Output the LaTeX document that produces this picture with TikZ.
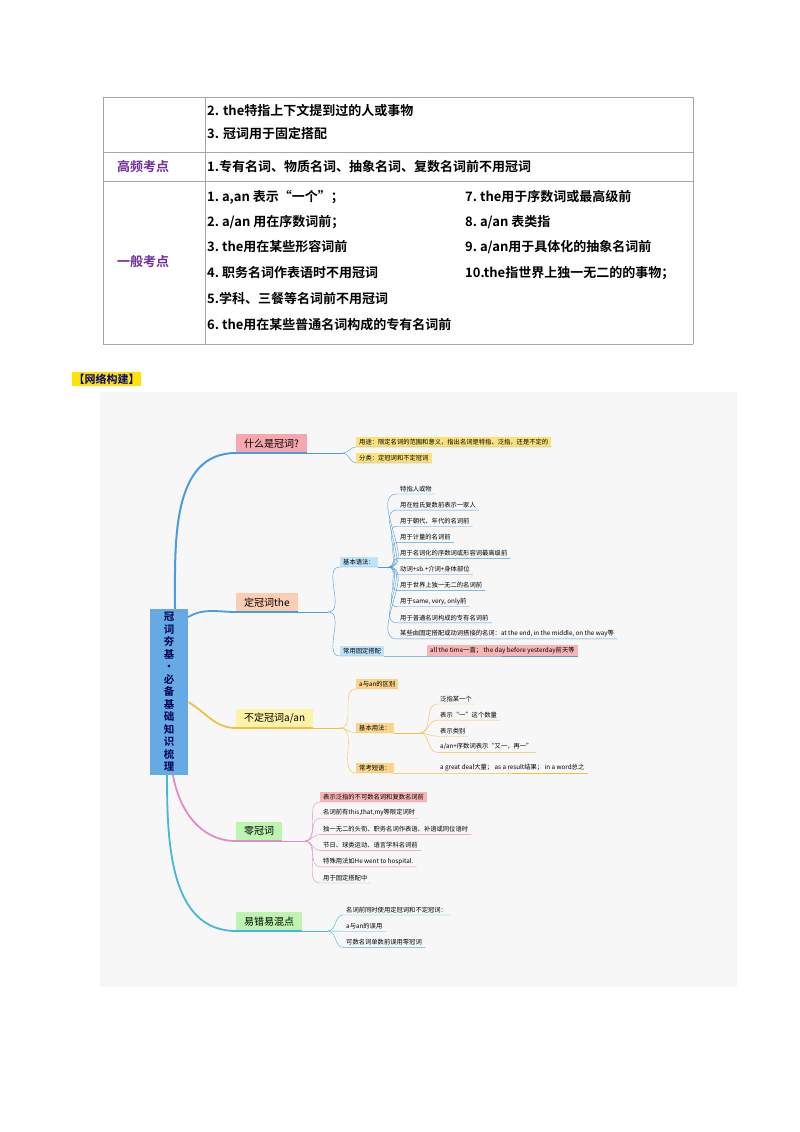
\documentclass[tikz,border=0pt]{standalone}
\usepackage{fontspec}
\setmainfont{Noto Sans CJK SC}
\newfontfamily\cjkb{Noto Sans CJK SC Bold}
\usetikzlibrary{calc}
\definecolor{bgc}{HTML}{F7F7F8}
\definecolor{pur}{HTML}{7030A0}
\definecolor{lb}{HTML}{4A9BE0}
\definecolor{ly}{HTML}{F0C040}
\definecolor{lp}{HTML}{E58AC8}
\definecolor{lc}{HTML}{45B8D8}
\definecolor{bpink}{HTML}{F7A8AE}
\definecolor{bor}{HTML}{FBCDB2}
\definecolor{byel}{HTML}{FBF3A8}
\definecolor{bgrn}{HTML}{BDF5B0}
\definecolor{yel}{HTML}{FBE27A}
\definecolor{lblu}{HTML}{BFE3FA}
\definecolor{org}{HTML}{FBD38A}
\definecolor{pk}{HTML}{F9B5B5}
\tikzset{
 tb/.style={anchor=base west,font=\cjkb\fontsize{13}{14}\selectfont,inner sep=0pt},
 br/.style={anchor=south west,font=\fontsize{10}{11}\selectfont,inner xsep=8pt,inner ysep=3pt,minimum height=19pt},
 lf/.style={anchor=south west,font=\fontsize{6.3}{7}\selectfont,inner xsep=3pt,inner ysep=2pt},
}
\begin{document}
\begin{tikzpicture}[x=1pt,y=-1pt]
\useasboundingbox (0,0) rectangle (800,1132);
\fill[white] (0,0) rectangle (800,1132);
% table
\draw[gray!70,line width=0.8pt] (103,97) -- (693,97) (103,152) -- (693,152) (103,181) -- (693,181) (103,344) -- (693,344)
 (103,97) -- (103,344) (205,97) -- (205,344) (693,97) -- (693,344);
\node[tb] (r1a) at (207,115) {2. the特指上下文提到过的人或事物};
\node[tb] (r1b) at (207,138) {3. 冠词用于固定搭配};
\node[tb,anchor=base,text=pur] (gp) at (143,171) {高频考点};
\node[tb] (r2) at (207,171) {1.专有名词、物质名词、抽象名词、复数名词前不用冠词};
\node[tb,anchor=base,text=pur] (yb) at (143,266) {一般考点};
\node[tb] (a1) at (207,201) {1.\ a,an 表示“一个”；};
\node[tb] (a2) at (207,226) {2.\ a/an 用在序数词前；};
\node[tb] (a3) at (207,251) {3.\ the用在某些形容词前};
\node[tb] (a4) at (207,277) {4.\ 职务名词作表语时不用冠词};
\node[tb] (a5) at (207,303) {5.学科、三餐等名词前不用冠词};
\node[tb] (a6) at (207,329) {6.\ the用在某些普通名词构成的专有名词前};
\node[tb] (b7) at (465,201) {7.\ the用于序数词或最高级前};
\node[tb] (b8) at (465,226) {8.\ a/an 表类指};
\node[tb] (b9) at (465,251) {9.\ a/an用于具体化的抽象名词前};
\node[tb] (b10) at (465,277) {10.the指世界上独一无二的的事物；};
% header
\node[anchor=west,fill=yellow!85!orange,text=blue!55!black,font=\cjkb\fontsize{11}{12}\selectfont,inner sep=1.5pt] (hd) at (72,379) {【网络构建】};
% mind map
\fill[bgc] (100,392) rectangle (737,987);
\node[fill=lb!85,minimum width=38pt,minimum height=150pt,font=\cjkb\fontsize{10.5}{12.5}\selectfont,text=blue!30!black,align=center] (c) at (169,692)
 {冠\\词\\夯\\基\\·\\必\\备\\基\\础\\知\\识\\梳\\理};
% branch boxes
\node[br,fill=bpink] (b1) at (236,453) {什么是冠词?};
\node[br,fill=bor] (b2) at (236,612) {定冠词the};
\node[br,fill=byel] (b3) at (236,728) {不定冠词a/an};
\node[br,fill=bgrn] (b4) at (236,841) {零冠词};
\node[br,fill=bgrn] (b5) at (236,931) {易错易混点};
\draw[lb,line width=2pt] ($(c.north)+(6,0)$) to[out=90,in=180] (b1.south west);
\draw[lb,line width=1.8pt] ($(c.east)+(0,-75)$) to[out=30,in=180] (b2.south west);
\draw[ly,line width=1.8pt] ($(c.east)+(0,10)$) to[out=-30,in=180] (b3.south west);
\draw[lp,line width=1.8pt] ($(c.south)+(4,0)$) to[out=-80,in=180] (b4.south west);
\draw[lc,line width=1.8pt] ($(c.south)+(-2,0)$) to[out=-90,in=180] (b5.south west);
\draw[lb,line width=1.2pt] (b1.south west) -- (b1.south east);
\draw[lb,line width=1.2pt] (b2.south west) -- (b2.south east);
\draw[ly,line width=1.2pt] (b3.south west) -- (b3.south east);
\draw[lp,line width=1.2pt] (b4.south west) -- (b4.south east);
\draw[lc,line width=1.2pt] (b5.south west) -- (b5.south east);
% b1 children
\coordinate (h1) at (343,453);
\node[lf,fill=yel] (c11) at (356,447) {用途：限定名词的范围和意义，指出名词是特指、泛指，还是不定的};
\node[lf,fill=yel] (c12) at (356,463) {分类：定冠词和不定冠词};
\draw[lb] (b1.south east) -- (h1);
\foreach \n in {c11,c12}{\draw[lb] (h1) to[out=0,in=180] (\n.south west) -- (\n.south east);}
% b2 children
\coordinate (h2) at (328,612);
\draw[lb] (b2.south east) -- (h2);
\node[lf,fill=lblu] (g1) at (340,567) {基本语法：};
\node[lf,fill=lblu] (g2) at (340,656) {常用固定搭配};
\node[lf,fill=pk] (g3) at (427,656) {all the time一直；\ the day before yesterday前天等};
\foreach \n in {g1,g2}{\draw[lb] (h2) to[out=0,in=180] (\n.south west) -- (\n.south east);}
\draw[lb] (g2.south east) -- (g3.south west) -- (g3.south east);
\coordinate (h3) at (389,567);
\draw[lb] (g1.south east) -- (h3);
\foreach \t [count=\i] in {特指人或物,用在姓氏复数前表示一家人,用于朝代、年代的名词前,用于计量的名词前,用于名词化的序数词或形容词最高级前,动词+sb.+介词+身体部位,用于世界上独一无二的名词前,{用于same, very, only前},用于普通名词构成的专有名词前,{某些由固定搭配或动词搭接的名词：at the end, in the middle, on the way等}}{
 \node[lf] (t\i) at (397,{494+(\i-1)*16.1}) {\t};
 \draw[lb] (h3) to[out=0,in=180] (t\i.south west) -- (t\i.south east);
}
% b3 children
\coordinate (h4) at (340,728);
\draw[ly] (b3.south east) -- (h4);
\node[lf,fill=org] (d1) at (356,689) {a与an的区别};
\node[lf,fill=org] (d2) at (356,733) {基本用法：};
\node[lf,fill=org] (d3) at (356,773) {常考短语：};
\node[lf] (d4) at (437,773) {a great deal大量；\ as a result结果；\ in a word总之};
\foreach \n in {d1,d2,d3}{\draw[ly] (h4) to[out=0,in=180] (\n.south west) -- (\n.south east);}
\draw[ly] (d3.south east) -- (d4.south west) -- (d4.south east);
\coordinate (h5) at (420,733);
\draw[ly] (d2.south east) -- (h5);
\foreach \t [count=\i] in {泛指某一个,表示“一”这个数量,表示类别,a/an+序数词表示“又一，再一”}{
 \node[lf] (e\i) at (437,{704+(\i-1)*16.1}) {\t};
 \draw[ly] (h5) to[out=0,in=180] (e\i.south west) -- (e\i.south east);
}
% b4 children
\coordinate (h6) at (305,841);
\draw[lp] (b4.south east) -- (h6);
\foreach \t [count=\i] in {表示泛指的不可数名词和复数名词前,{名词前有this,that,my等限定词时},独一无二的头衔、职务名词作表语、补语或同位语时,节日、球类运动、语言学科名词前,{特殊用法如He went to hospital.},用于固定搭配中}{
 \ifnum\i=1 \node[lf,fill=pk] (z\i) at (320,{802+(\i-1)*16.2}) {\t};
 \else \node[lf] (z\i) at (320,{802+(\i-1)*16.2}) {\t}; \fi
 \draw[lp] (h6) to[out=0,in=180] (z\i.south west) -- (z\i.south east);
}
% b5 children
\coordinate (h7) at (328,931);
\draw[lc] (b5.south east) -- (h7);
\foreach \t [count=\i] in {名词前同时使用定冠词和不定冠词：,a与an的误用,可数名词单数前误用零冠词}{
 \node[lf] (y\i) at (343,{915+(\i-1)*16.2}) {\t};
 \draw[lc] (h7) to[out=0,in=180] (y\i.south west) -- (y\i.south east);
}
\end{tikzpicture}
\end{document}
